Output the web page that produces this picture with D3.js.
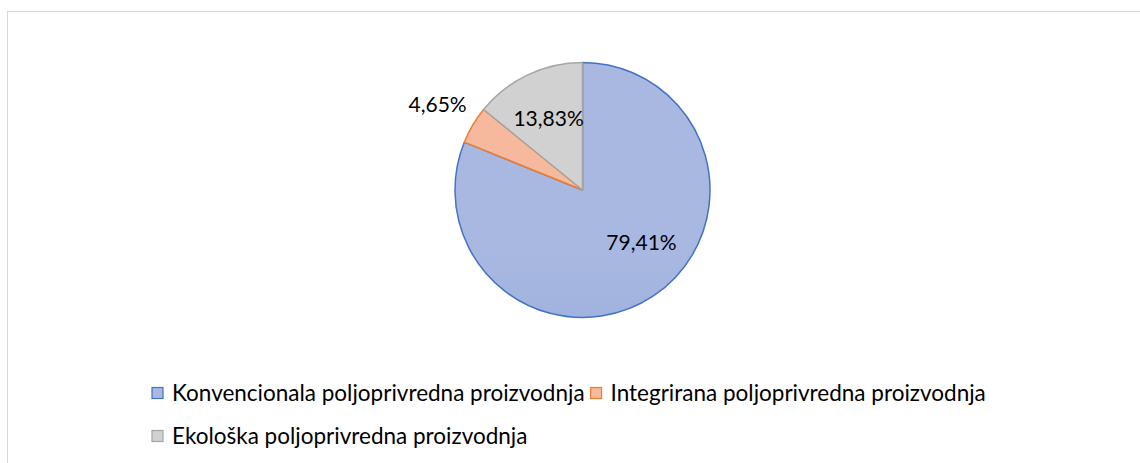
<!DOCTYPE html>
<html>
<head>
<meta charset="utf-8">
<script src="https://cdn.jsdelivr.net/npm/d3@7"></script>
<style>
  body { margin: 0; background: #fff; }
  svg { display: block; }
  text { font-family: Lato, "Open Sans", sans-serif; fill: #000; }
</style>
</head>
<body>
<div id="chart"></div>
<script>
// chart values
var categories = ["Konvencionala poljoprivredna proizvodnja", "Integrirana poljoprivredna proizvodnja", "Ekološka poljoprivredna proizvodnja"];
var shares = [79.41, 4.65, 13.83];
var shareLabels = ["79,41%", "4,65%", "13,83%"];

var width = 1140, height = 463;
var cx = 582.5, cy = 190, radius = 127.5;

var fills = [["#a8b8e1", "#8ba2d8"], ["#f6b99d", "#f3ad8e"], ["#d1d1d1", "#c3c3c3"]];
var strokes = ["#4472c4", "#ed7d31", "#a5a5a5"];

var svg = d3.select("#chart").append("svg")
  .attr("width", width)
  .attr("height", height);

// frame (only top and left edges show in the picture)
svg.append("rect")
  .attr("x", 7.5).attr("y", 11.5)
  .attr("width", width).attr("height", height)
  .attr("fill", "none")
  .attr("stroke", "#d9d9d9")
  .attr("stroke-width", 1);

var defs = svg.append("defs");
fills.forEach(function(f, i) {
  var g = defs.append("linearGradient")
    .attr("id", "grad" + i)
    .attr("gradientUnits", "userSpaceOnUse")
    .attr("x1", 0).attr("y1", cy - radius)
    .attr("x2", 0).attr("y2", cy + radius);
  g.append("stop").attr("offset", "0%").attr("stop-color", f[0]);
  g.append("stop").attr("offset", "100%").attr("stop-color", f[1]);
});

// slices go clockwise from 12 o'clock in data order
var pie = d3.pie().sort(null).value(function(d) { return d; });
var arcs = pie(shares);

var arc = d3.arc().innerRadius(0).outerRadius(radius);
var g = svg.append("g").attr("transform", "translate(" + cx + "," + cy + ")");

g.selectAll("path")
  .data(arcs)
  .enter()
  .append("path")
  .attr("d", arc)
  .attr("fill", function(d, i) { return "url(#grad" + i + ")"; })
  .attr("stroke", function(d, i) { return strokes[i]; })
  .attr("stroke-width", 1.5)
  .attr("stroke-linejoin", "round");

// small slices get their label outside
function labelPos(d) {
  var span = d.endAngle - d.startAngle;
  var r = span < 0.4 ? radius * 1.32 : radius * 0.62;
  var a = (d.startAngle + d.endAngle) / 2;
  if (span > Math.PI) a -= 0.25; // best-fit style shift for the big slice
  return [Math.sin(a) * r, -Math.cos(a) * r];
}

g.selectAll("text.val")
  .data(arcs)
  .enter()
  .append("text")
  .attr("class", "val")
  .attr("x", function(d) { return labelPos(d)[0]; })
  .attr("y", function(d) { return labelPos(d)[1]; })
  .attr("text-anchor", "middle")
  .attr("dy", "0.35em")
  .style("font-size", "21px")
  .text(function(d, i) { return shareLabels[i]; });

// legend, flowed left to right and wrapped
var legend = svg.append("g");
var lx0 = 152, lxMax = 1000, ly = 393, rowGap = 43;
var x = lx0;
categories.forEach(function(c, i) {
  var item = legend.append("g");
  item.append("rect")
    .attr("width", 11).attr("height", 11)
    .attr("y", -5.5)
    .attr("fill", "url(#grad" + i + ")")
    .attr("stroke", strokes[i])
    .attr("stroke-width", 1.2);
  var t = item.append("text")
    .attr("x", 20)
    .attr("dy", "0.35em")
    .style("font-size", "22.5px")
    .text(c);
  var w = 20 + t.node().getComputedTextLength();
  if (x + w > lxMax && x > lx0) { x = lx0; ly += rowGap; }
  item.attr("transform", "translate(" + x + "," + ly + ")");
  x += w + 6;
});
</script>
</body>
</html>
